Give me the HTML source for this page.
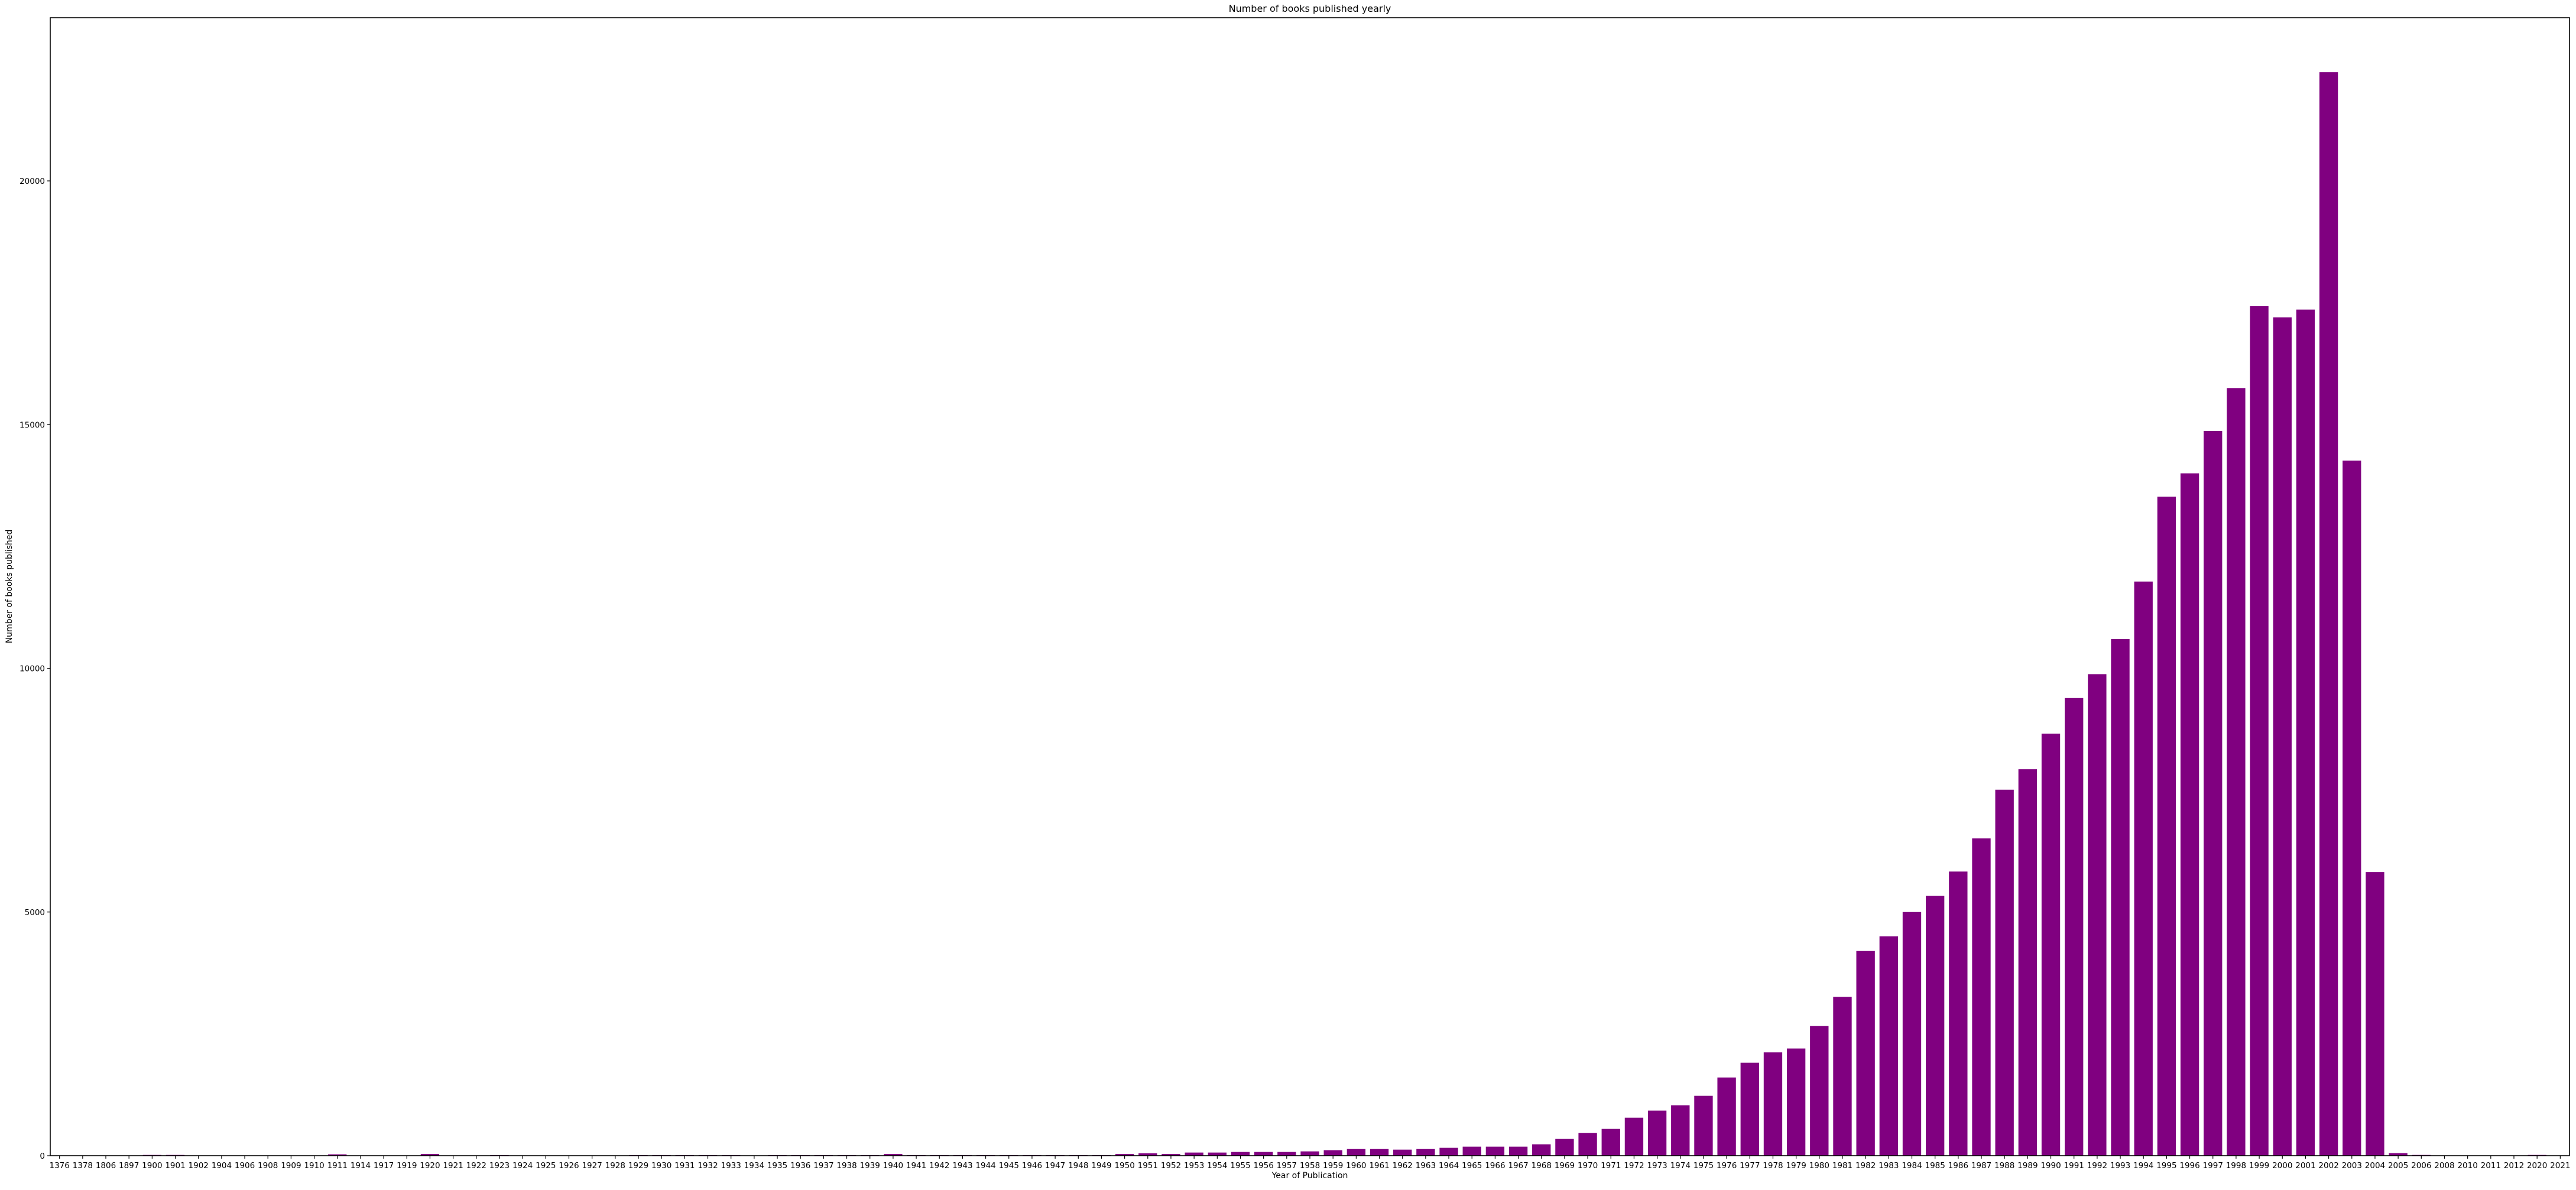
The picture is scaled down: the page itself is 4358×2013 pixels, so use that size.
<!DOCTYPE html>
<html><head><meta charset="utf-8"><style>
html,body{margin:0;padding:0;background:#fff;}
svg text{font-family:"DejaVu Sans","Liberation Sans",sans-serif;fill:#000;}
</style></head><body>
<svg id="chart" width="4358" height="2008" viewBox="0 0 4358 2008" xmlns="http://www.w3.org/2000/svg">
<rect x="0" y="0" width="4358" height="2008" fill="#fff"/>
<g id="bars"></g>
<g id="xticks"></g>
<g id="yticks"></g>
<rect x="85" y="30" width="4262" height="1925" fill="none" stroke="#000" stroke-width="1.6"/>
<text x="2216" y="20" font-size="16" text-anchor="middle">Number of books published yearly</text>
<text x="2216" y="1993" font-size="14" text-anchor="middle">Year of Publication</text>
<text x="0" y="0" font-size="14" text-anchor="middle" transform="translate(20,992) rotate(-90)">Number of books published</text>
</svg>
<script>
const years = ["1376","1378","1806","1897","1900","1901","1902","1904","1906","1908","1909","1910","1911","1914","1917","1919","1920","1921","1922","1923","1924","1925","1926","1927","1928","1929","1930","1931","1932","1933","1934","1935","1936","1937","1938","1939","1940","1941","1942","1943","1944","1945","1946","1947","1948","1949","1950","1951","1952","1953","1954","1955","1956","1957","1958","1959","1960","1961","1962","1963","1964","1965","1966","1967","1968","1969","1970","1971","1972","1973","1974","1975","1976","1977","1978","1979","1980","1981","1982","1983","1984","1985","1986","1987","1988","1989","1990","1991","1992","1993","1994","1995","1996","1997","1998","1999","2000","2001","2002","2003","2004","2005","2006","2008","2010","2011","2012","2020","2021"];
const counts = [1,1,1,1,16,16,1,1,1,1,1,1,28,1,1,1,36,2,2,12,2,2,2,2,2,12,12,12,12,12,2,12,12,12,12,12,36,12,12,12,12,12,12,12,12,12,36,49,36,65,65,77,77,77,89,113,137,137,125,137,162,186,186,186,234,344,465,550,780,926,1035,1229,1605,1908,2120,2200,2660,3260,4200,4500,5000,5330,5830,6510,7510,7930,8660,9390,9880,10600,11780,13520,14000,14870,15750,17430,17200,17360,22230,14260,5820,53,16,2,2,2,2,16,2];
const yTicks = [0,5000,10000,15000,20000];

const NS="http://www.w3.org/2000/svg";
const L=85,R=4347,T=30,B=1955;
const xmin=-0.4,xmax=years.length-1+0.4;
const xs=i=>L+(i-xmin)/(xmax-xmin)*(R-L);
const ys=v=>B-v*(B-306)/20000;
const unit=(R-L)/(xmax-xmin);
const gb=document.getElementById('bars'),gx=document.getElementById('xticks'),gy=document.getElementById('yticks');
function mk(tag,attrs,parent){const e=document.createElementNS(NS,tag);for(const k in attrs)e.setAttribute(k,attrs[k]);parent.appendChild(e);return e;}
years.forEach((y,i)=>{
  const v=counts[i];
  const r=mk('rect',{x:xs(i)-0.4*unit,y:ys(v),width:0.8*unit,height:B-ys(v),fill:'#800080'},gb);
  
  
  const t=mk('line',{x1:xs(i),x2:xs(i),y1:B,y2:B+5,stroke:'#000','stroke-width':1.2},gx);
  
  
  const l=mk('text',{x:xs(i),y:B+21,'font-size':13.5,'text-anchor':'middle'},gx);
  l.textContent=y;
  
  
});
yTicks.forEach(v=>{
  const t=mk('line',{x1:L-5,x2:L,y1:ys(v),y2:ys(v),stroke:'#000','stroke-width':1.2},gy);
  
  
  const l=mk('text',{x:L-9,y:ys(v)+5,'font-size':13.5,'text-anchor':'end'},gy);
  l.textContent=v;
  
  
});
</script>
</body></html>
